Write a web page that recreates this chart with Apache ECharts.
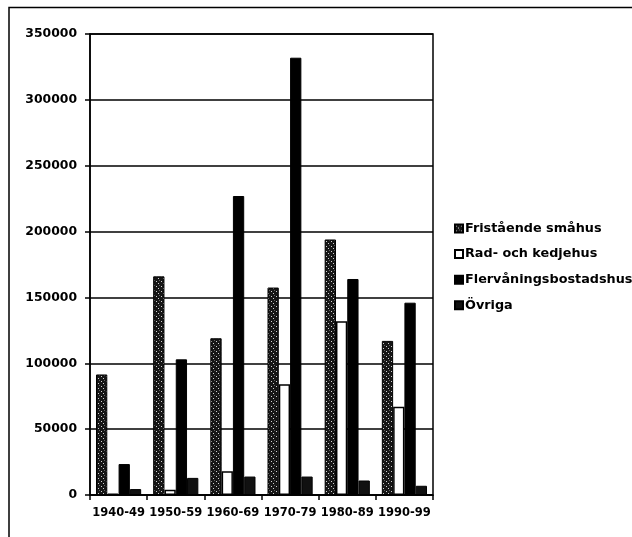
<!DOCTYPE html>
<html>
<head>
<meta charset="utf-8">
<script src="https://cdn.jsdelivr.net/npm/echarts@6/dist/echarts.min.js"></script>
<style>
html,body{margin:0;padding:0;background:#fff;}
#chart{width:632px;height:537px;}
</style>
</head>
<body>
<div id="chart"></div>
<script>
const categories = ['1940-49','1950-59','1960-69','1970-79','1980-89','1990-99'];
const seriesNames = ['Fristående småhus','Rad- och kedjehus','Flervåningsbostadshus','Övriga'];
const fristaende = [91500, 166000, 119000, 157500, 194000, 117000];
const radKedje = [1000, 4000, 18000, 84000, 132000, 67000];
const flervaning = [23500, 103000, 227000, 332000, 164000, 146000];
const ovriga = [4500, 13000, 14000, 14000, 11000, 7000];
const yMin = 0, yMax = 350000, yStep = 50000;

function makePattern(){
  const c = document.createElement('canvas');
  c.width = 5; c.height = 5;
  const g = c.getContext('2d');
  g.fillStyle = '#161616';
  g.fillRect(0,0,5,5);
  g.fillStyle = '#d0d0d0';
  g.fillRect(1,1,1,1);
  g.fillRect(3,3,1,1);
  g.fillStyle = '#606060';
  g.fillRect(4,0,1,1);
  return c;
}
const pattern = {image: makePattern(), repeat: 'repeat'};

const font = 'DejaVu Sans';
const chart = echarts.init(document.getElementById('chart'), null, {renderer:'canvas'});
chart.setOption({
  animation: false,
  backgroundColor: '#fff',
  graphic: [{
    type: 'rect', silent: true, z: 0,
    shape: {x: 9, y: 7.5, width: 700, height: 600},
    style: {fill: 'none', stroke: '#000', lineWidth: 1.5}
  }],
  grid: {left: 90, right: 199, top: 34, bottom: 42, show: true, borderColor: '#000', borderWidth: 1.5, backgroundColor: 'transparent'},
  legend: {
    orient: 'vertical', left: 454, top: 222, padding: 0,
    itemWidth: 8, itemHeight: 8, itemGap: 12.6,
    icon: 'rect',
    textStyle: {fontFamily: font, fontWeight: 'bold', fontSize: 12.8, color: '#000', lineHeight: 13, padding: [0,0,0,-3]},
    data: seriesNames
  },
  xAxis: {
    type: 'category', data: categories,
    axisLine: {show: true, lineStyle: {color: '#000', width: 1.5}},
    axisTick: {show: true, length: 5, lineStyle: {color: '#000', width: 1.5}},
    axisLabel: {fontFamily: font, fontWeight: 'bold', fontSize: 11.5, color: '#000', margin: 12, interval: 0}
  },
  yAxis: {
    type: 'value', min: yMin, max: yMax, interval: yStep,
    axisLine: {show: true, lineStyle: {color: '#000', width: 1.5}},
    axisTick: {show: true, length: 5, lineStyle: {color: '#000', width: 1.5}},
    splitLine: {show: true, lineStyle: {color: '#000', width: 1.5}},
    axisLabel: {fontFamily: font, fontWeight: 'bold', fontSize: 12.4, color: '#000', margin: 13, formatter: v => String(v)}
  },
  series: [
    {name: seriesNames[0], type: 'bar', data: fristaende, barGap: '0%', barCategoryGap: '21%',
      itemStyle: {color: pattern, borderColor: '#000', borderWidth: 1}},
    {name: seriesNames[1], type: 'bar', data: radKedje,
      itemStyle: {color: '#fff', borderColor: '#000', borderWidth: 1.5}},
    {name: seriesNames[2], type: 'bar', data: flervaning,
      itemStyle: {color: '#000', borderColor: '#000', borderWidth: 1}},
    {name: seriesNames[3], type: 'bar', data: ovriga,
      itemStyle: {color: '#111', borderColor: '#000', borderWidth: 1}}
  ]
});
</script>
</body>
</html>
